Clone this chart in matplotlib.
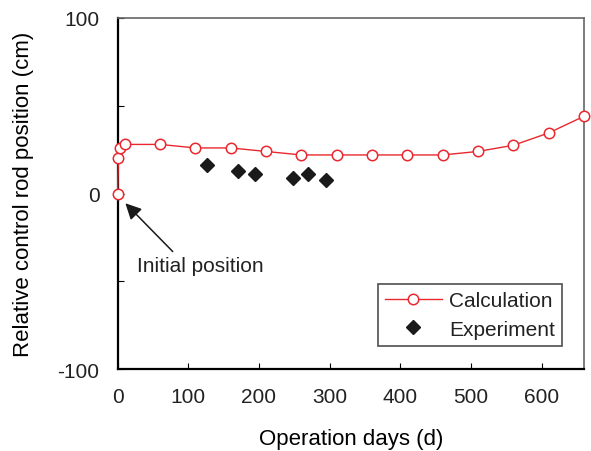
import matplotlib
matplotlib.use("Agg")
import matplotlib.pyplot as plt
from matplotlib.ticker import MultipleLocator

plt.rcParams['font.family'] = ['Liberation Sans', 'DejaVu Sans']
plt.rcParams['axes.unicode_minus'] = False
plt.rcParams['text.color'] = '#222222'

# calculated control rod position
calc_days = [0, 1, 4, 10, 60, 110, 160, 210, 260, 310, 360, 410, 460, 510, 560, 610, 660]
calc_pos = [0, 20, 26, 28, 28, 26, 26, 24, 22, 22, 22, 22, 22, 24, 27.5, 34.5, 44]

# measured
exp_days = [127, 170, 194, 248, 270, 295]
exp_pos = [16, 13, 11, 9, 11, 7.5]

fig = plt.figure(figsize=(5.91, 4.52), dpi=100)
ax = fig.add_axes([0.199, 0.181, 0.789, 0.777])

ax.plot(calc_days, calc_pos, color="#e8282e", lw=1, marker="o", ms=7.5,
        mfc="white", mec="#e8282e", mew=1.1, label="Calculation", clip_on=False, zorder=3)
ax.plot(exp_days, exp_pos, ls="none", marker="D", ms=7, color="#1a1a1a",
        label="Experiment", zorder=3)

ax.set_xlim(0, 660)
ax.set_ylim(-100, 100)
ax.xaxis.set_major_locator(MultipleLocator(100))
ax.yaxis.set_major_locator(MultipleLocator(100))
ax.yaxis.set_minor_locator(MultipleLocator(50))
ax.tick_params(direction="in", length=4, width=0.8, labelsize=15, pad=13,
               labelcolor="#222222")
ax.tick_params(which="minor", direction="in", length=4, width=0.8)

for s in ["top", "right"]:
    ax.spines[s].set_color("#666666")
    ax.spines[s].set_linewidth(1.2)
for s in ["left", "bottom"]:
    ax.spines[s].set_color("black")
    ax.spines[s].set_linewidth(1.6)

ax.set_xlabel("Operation days (d)", fontsize=16, labelpad=16)
ax.set_ylabel("Relative control rod position (cm)", fontsize=16, labelpad=17)

ax.annotate("", xy=(11, -5.5), xytext=(78, -33),
            arrowprops=dict(arrowstyle="-|>", color="#1a1a1a", lw=1.1,
                            mutation_scale=24, shrinkA=0, shrinkB=0))
ax.text(117, -41, "Initial position", fontsize=15, ha="center", va="center")

leg = ax.legend(loc="lower right", bbox_to_anchor=(0.953, 0.066), fontsize=15,
                frameon=True, fancybox=False, edgecolor="#222222",
                handlelength=2.7, handletextpad=0.35, borderpad=0.35,
                labelspacing=0.45, borderaxespad=0)
leg.get_frame().set_linewidth(1.2)

fig.savefig("out.png", dpi=100)
